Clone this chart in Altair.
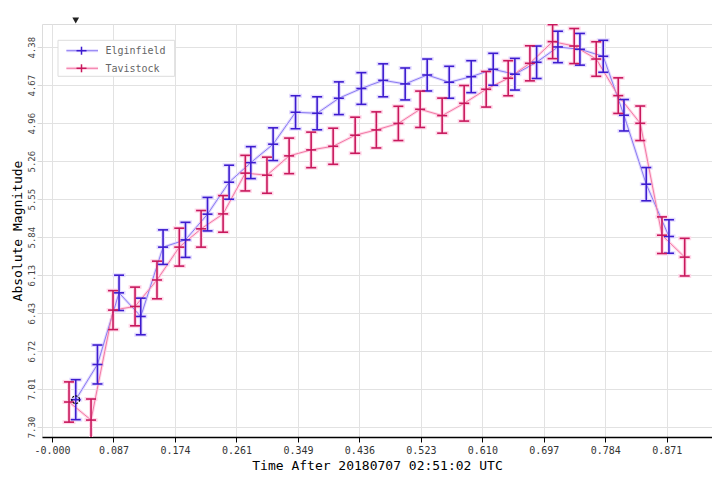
import altair as alt
import pandas as pd

series_names = ["Elginfield", "Tavistock"]

elg_t = [0.0336, 0.0644, 0.0950, 0.1258, 0.1574, 0.1892, 0.2204, 0.2510, 0.2818, 0.3134,
         0.3452, 0.3758, 0.4066, 0.4385, 0.4694, 0.5006, 0.5318, 0.5630, 0.5942, 0.6254,
         0.6561, 0.6869, 0.7171, 0.7483, 0.7813, 0.8107, 0.8423, 0.8745]
elg_mag = [7.093, 6.822, 6.270, 6.452, 5.918, 5.862, 5.664, 5.418, 5.267, 5.125,
           4.879, 4.887, 4.771, 4.696, 4.633, 4.661, 4.592, 4.648, 4.605, 4.548,
           4.586, 4.494, 4.376, 4.394, 4.448, 4.902, 5.433, 5.836]
elg_err = [0.154, 0.150, 0.136, 0.141, 0.133, 0.135, 0.129, 0.131, 0.123, 0.126,
           0.127, 0.127, 0.126, 0.122, 0.127, 0.123, 0.123, 0.123, 0.123, 0.123,
           0.122, 0.125, 0.121, 0.122, 0.123, 0.121, 0.128, 0.129]

tav_t = [0.0241, 0.0553, 0.0865, 0.1177, 0.1488, 0.1804, 0.2113, 0.2425, 0.2740, 0.3047,
         0.3361, 0.3673, 0.3985, 0.4297, 0.4597, 0.4909, 0.5218, 0.5530, 0.5842, 0.6154,
         0.6466, 0.6774, 0.7096, 0.7402, 0.7714, 0.8026, 0.8338, 0.8646, 0.8968]
tav_mag = [7.111, 7.250, 6.403, 6.375, 6.171, 5.918, 5.777, 5.662, 5.348, 5.364,
           5.215, 5.169, 5.141, 5.056, 5.015, 4.965, 4.856, 4.905, 4.810, 4.702,
           4.617, 4.502, 4.335, 4.369, 4.469, 4.751, 4.964, 5.826, 5.995]
tav_err = [0.155, 0.162, 0.150, 0.149, 0.145, 0.146, 0.141, 0.141, 0.137, 0.139,
           0.137, 0.137, 0.139, 0.139, 0.139, 0.132, 0.140, 0.135, 0.137, 0.137,
           0.135, 0.135, 0.131, 0.135, 0.133, 0.137, 0.133, 0.141, 0.145]

x_tick_values = [0.0, 0.08714, 0.17428, 0.26142, 0.34856, 0.4357, 0.52284,
                 0.60998, 0.69712, 0.78426, 0.8714]
y_tick_values = [4.3785, 4.671, 4.9635, 5.256, 5.5485, 5.841, 6.1335,
                 6.426, 6.7185, 7.011, 7.3035]
x_title = "Time After 20180707 02:51:02 UTC"
y_title = "Absolute Magnitude"

MONO = "DejaVu Sans Mono"
W, H = 670, 413
GRID = "#e2e2e2"

styles = {
    "Elginfield": dict(bar="#3c1ccf", line="#8a7cf2", halo="#e4dcff"),
    "Tavistock": dict(bar="#c8185c", line="#f27aa5", halo="#ffd8e9"),
}


def make_df(name, t, m, e):
    return pd.DataFrame({
        "series": name, "t": t, "mag": m,
        "lo": [a - b for a, b in zip(m, e)],
        "hi": [a + b for a, b in zip(m, e)],
    })


dfs = {
    "Elginfield": make_df("Elginfield", elg_t, elg_mag, elg_err),
    "Tavistock": make_df("Tavistock", tav_t, tav_mag, tav_err),
}

x_scale = alt.Scale(domain=[-0.0142, 0.9355], nice=False, zero=False)
y_scale = alt.Scale(domain=[4.1992, 7.3805], reverse=True, nice=False, zero=False)

x_axis = alt.Axis(
    values=x_tick_values,
    labelExpr="datum.value < 0.001 ? '-0.000' : format(datum.value, '.3f')",
    labelFont=MONO, labelFontSize=10, labelColor="#333", labelPadding=3,
    labelFlush=False, labelOverlap=False,
    tickColor="black", tickSize=5, domainColor="black", domainWidth=1.5,
    gridColor=GRID, title=x_title, titleFont=MONO, titleFontSize=13,
    titleFontWeight="normal", titleColor="black", titlePadding=4,
)
y_axis = alt.Axis(
    values=y_tick_values, format=".2f",
    labelAngle=270, labelAlign="center", labelBaseline="alphabetic",
    labelFont=MONO, labelFontSize=9, labelColor="#444", labelPadding=3,
    labelFlush=False, labelOverlap=False,
    tickColor="#d8d8d8", tickSize=5, domain=False,
    gridColor=GRID, title=y_title, titleFont=MONO, titleFontSize=13,
    titleFontWeight="normal", titleColor="black", titlePadding=3,
)


def X(field="t"):
    return alt.X(f"{field}:Q", scale=x_scale, axis=x_axis, title=x_title)


def Y(field="mag"):
    return alt.Y(f"{field}:Q", scale=y_scale, axis=y_axis, title=y_title)


halo_layers, line_layers, bar_layers = [], [], []
for name in series_names:
    d = dfs[name]
    s = styles[name]
    base = alt.Chart(d)
    halo_layers.append(base.mark_line(color=s["halo"], strokeWidth=3, clip=True)
                       .encode(x=X(), y=Y()))
    halo_layers.append(base.mark_rule(color=s["halo"], strokeWidth=4, clip=True)
                       .encode(x=X(), y=Y("lo"), y2="hi:Q"))
    halo_layers.append(base.transform_fold(["lo", "hi", "mag"], as_=["which", "capy"])
                       .mark_tick(orient="horizontal", color=s["halo"], size=13,
                                  thickness=4, opacity=1, clip=True)
                       .encode(x=X(), y=Y("capy")))
    line_layers.append(base.mark_line(color=s["line"], strokeWidth=1, clip=True)
                       .encode(x=X(), y=Y()))
    bar_layers.append(base.mark_rule(color=s["bar"], strokeWidth=1.6, clip=True)
                      .encode(x=X(), y=Y("lo"), y2="hi:Q"))
    bar_layers.append(base.transform_fold(["lo", "hi", "mag"], as_=["which", "capy"])
                      .mark_tick(orient="horizontal", color=s["bar"], size=10,
                                 thickness=1.6, opacity=1, clip=True)
                      .encode(x=X(), y=Y("capy")))

# hover marker on the first Elginfield point
hover = alt.Chart(dfs["Elginfield"].iloc[[0]])
hover_layers = [
    hover.mark_point(shape="circle", filled=False, size=60, color="black",
                     strokeWidth=1.2, strokeDash=[2, 1.5], opacity=1).encode(x=X(), y=Y()),
    hover.mark_point(shape="triangle-down", filled=True, size=45, color="#222",
                     opacity=1, clip=False).encode(x=X(), y=alt.value(-3.5)),
    hover.mark_point(shape="triangle-left", filled=True, size=45, color="#222",
                     opacity=1, clip=False).encode(x=alt.value(W + 3), y=Y()),
]

# legend
legend_layers = [
    alt.Chart(alt.Data(values=[{"k": 0}])).mark_rect(fill="white", stroke="#dddddd", strokeWidth=1)
    .encode(x=alt.value(16), x2=alt.value(132.7), y=alt.value(16.3), y2=alt.value(52.3))
]
for i, name in enumerate(series_names):
    s = styles[name]
    yy = 26.7 + i * 17.6
    one = alt.Chart(alt.Data(values=[{"series": name}]))
    legend_layers += [
        one.mark_rule(color=s["halo"], strokeWidth=3)
        .encode(x=alt.value(24.4), x2=alt.value(56), y=alt.value(yy)),
        one.mark_rule(color=s["line"], strokeWidth=1)
        .encode(x=alt.value(24.4), x2=alt.value(56), y=alt.value(yy)),
        one.mark_rule(color=s["bar"], strokeWidth=1.5)
        .encode(x=alt.value(34.5), x2=alt.value(44.5), y=alt.value(yy)),
        one.mark_rule(color=s["bar"], strokeWidth=1.5)
        .encode(x=alt.value(39.5), y=alt.value(yy - 4), y2=alt.value(yy + 4)),
        one.mark_text(align="left", baseline="middle", font=MONO, fontSize=10, color="#666")
        .encode(x=alt.value(63.4), y=alt.value(yy + 0.5), text="series:N"),
    ]

chart = alt.layer(*halo_layers, *line_layers, *bar_layers, *hover_layers, *legend_layers).properties(
    width=W, height=H,
    autosize=alt.AutoSizeParams(type="none"),
    padding={"left": 34, "top": 16, "right": 0, "bottom": 38},
    background="white",
).configure_view(stroke="#dcdcdc", strokeWidth=1)

chart.save("out.html", embed_options={"renderer": "svg", "actions": False})
